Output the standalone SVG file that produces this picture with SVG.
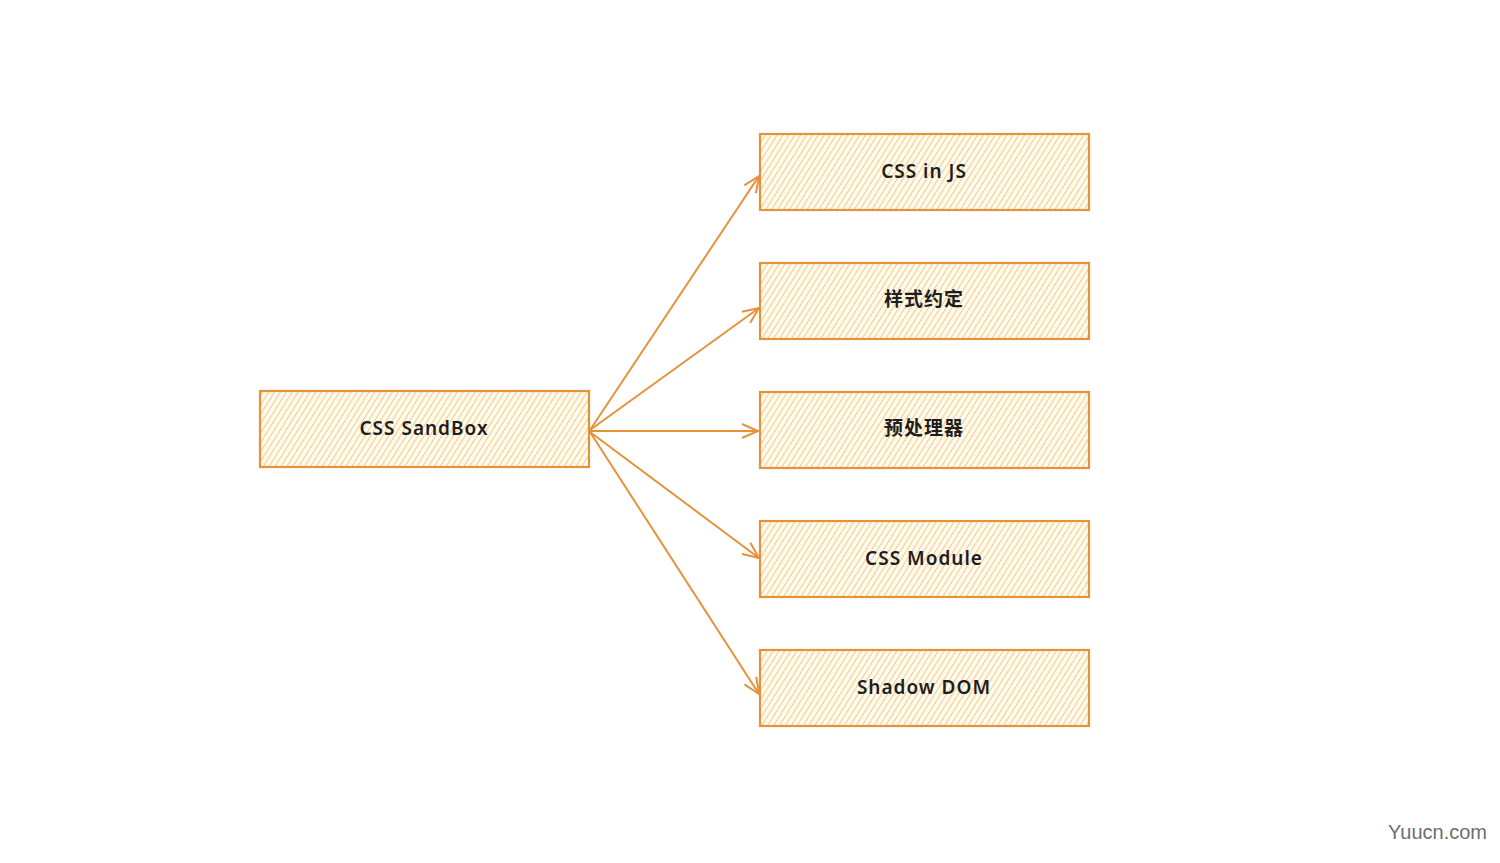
<svg xmlns="http://www.w3.org/2000/svg" width="1500" height="863" viewBox="0 0 1500 863">
<style>
.box{fill:url(#hatch);stroke:#e5933b;stroke-width:2.2}
.lbl{font-family:"Comic Sans MS","Noto Sans","Noto Sans CJK SC",sans-serif;font-size:19px;font-weight:600;letter-spacing:1px;fill:#1e1e1e;text-anchor:middle;dominant-baseline:central}
.conn{stroke:#e5933b;stroke-width:2;fill:none;marker-end:url(#arr)}
</style>
<defs>
<pattern id="hatch" width="5" height="5" patternUnits="userSpaceOnUse" patternTransform="rotate(32)">
<rect width="5" height="5" fill="#fffaf0"/>
<line x1="0" y1="0" x2="0" y2="5" stroke="#f4c163" stroke-width="1.6"/>
</pattern>
<marker id="arr" markerWidth="20" markerHeight="20" refX="18" refY="10" orient="auto" markerUnits="userSpaceOnUse">
<path d="M2,3 L18,10 L2,17" fill="none" stroke="#e5933b" stroke-width="2"/>
</marker>
</defs>
<rect width="1500" height="863" fill="#ffffff"/>
<g id="connectors">
<line class="conn" x1="590" y1="430" x2="759" y2="176"/>
<line class="conn" x1="590" y1="430" x2="759" y2="308"/>
<line class="conn" x1="590" y1="431" x2="758" y2="431"/>
<line class="conn" x1="590" y1="432" x2="759" y2="558"/>
<line class="conn" x1="590" y1="432" x2="759" y2="694"/>
</g>
<g id="node-sandbox"><rect class="box" x="260" y="391" width="329" height="76"/><text class="lbl" x="424" y="428">CSS SandBox</text></g>
<g id="node-cssinjs"><rect class="box" x="760" y="134" width="329" height="76"/><text class="lbl" x="924" y="171">CSS in JS</text></g>
<g id="node-convention"><rect class="box" x="760" y="263" width="329" height="76"/><text class="lbl" x="924" y="299">样式约定</text></g>
<g id="node-preprocessor"><rect class="box" x="760" y="392" width="329" height="76"/><text class="lbl" x="924" y="428">预处理器</text></g>
<g id="node-cssmodule"><rect class="box" x="760" y="521" width="329" height="76"/><text class="lbl" x="924" y="558">CSS Module</text></g>
<g id="node-shadowdom"><rect class="box" x="760" y="650" width="329" height="76"/><text class="lbl" x="924" y="687">Shadow DOM</text></g>
<text x="1487" y="839" font-family="Liberation Sans,Arial,sans-serif" font-size="20" fill="#6e6e6e" text-anchor="end">Yuucn.com</text>
</svg>
